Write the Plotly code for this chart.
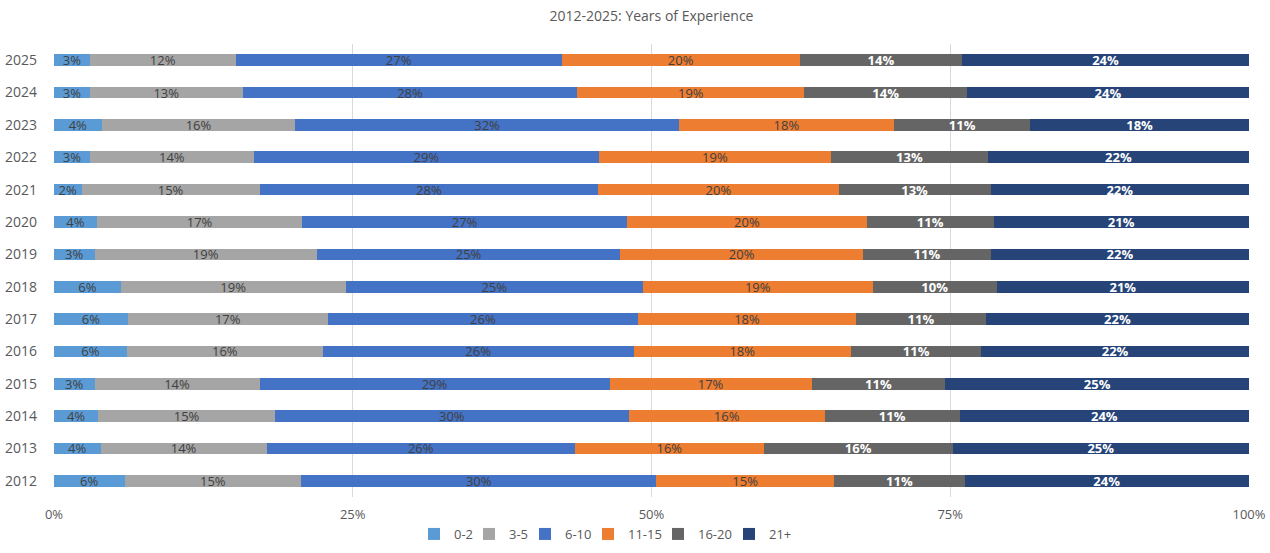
import plotly.graph_objects as go

years = ["2012", "2013", "2014", "2015", "2016", "2017", "2018",
         "2019", "2020", "2021", "2022", "2023", "2024", "2025"]

exp_0_2 = [5.9, 3.9, 3.7, 3.4, 6.1, 6.2, 5.6, 3.4, 3.6, 2.3, 3.0, 4.0, 3.0, 3.0]
exp_3_5 = [14.8, 13.9, 14.8, 13.8, 16.4, 16.7, 18.8, 18.6, 17.2, 14.9, 13.7, 16.2, 12.8, 12.2]
exp_6_10 = [29.7, 25.8, 29.6, 29.3, 26.0, 26.0, 24.9, 25.4, 27.2, 28.3, 28.8, 32.1, 28.0, 27.3]
exp_11_15 = [14.9, 15.8, 16.4, 16.9, 18.2, 18.2, 19.2, 20.3, 20.1, 20.1, 19.4, 18.0, 19.0, 19.9]
exp_16_20 = [10.9, 15.8, 11.3, 11.2, 10.9, 10.9, 10.4, 10.7, 10.6, 12.7, 13.1, 11.4, 13.6, 13.6]
exp_21_plus = [23.8, 24.8, 24.2, 25.4, 22.4, 22.0, 21.1, 21.6, 21.4, 21.6, 21.8, 18.3, 23.6, 24.0]

series_names = ["0-2", "3-5", "6-10", "11-15", "16-20", "21+"]
series_values = [exp_0_2, exp_3_5, exp_6_10, exp_11_15, exp_16_20, exp_21_plus]
colors = ["#5B9BD5", "#A5A5A5", "#4472C4", "#ED7D31", "#656565", "#264478"]
text_colors = ["#404040", "#404040", "#404040", "#404040", "#FFFFFF", "#FFFFFF"]
text_bold = [False, False, False, False, True, True]
legend_x_px = [434, 489, 545, 608, 678, 749]   # legend marker centres (px)

FONT = "Open Sans"
W, H = 1270, 553
ML, MR, MT, MB = 54, 21, 44, 56
PW, PH = W - ML - MR, H - MT - MB

fig = go.Figure()
legends = {}
for i, (name, vals, col, tcol, bold) in enumerate(zip(series_names, series_values, colors, text_colors, text_bold)):
    labels = [f"{int(v + 0.5)}%" for v in vals]
    if bold:
        labels = [f"<b>{t}</b>" for t in labels]
    lg = "legend" if i == 0 else f"legend{i + 1}"
    fig.add_trace(go.Bar(
        name=name,
        y=years,
        x=vals,
        orientation="h",
        marker=dict(color=col, line=dict(width=0)),
        text=labels,
        textposition="inside",
        insidetextanchor="middle",
        textfont=dict(color=tcol, size=13, family=FONT),
        hoverinfo="skip",
        legend=lg,
    ))
    legends[lg] = dict(
        orientation="h",
        x=(legend_x_px[i] - 20 - ML) / PW, xanchor="left",
        y=-(534 - (MT + PH)) / PH, yanchor="middle",
        font=dict(size=13, color="#595959", family=FONT),
        itemwidth=30,
        bgcolor="rgba(0,0,0,0)",
    )

fig.update_layout(
    barmode="stack",
    barnorm="percent",
    bargap=0.64,
    width=W,
    height=H,
    margin=dict(l=ML, r=MR, t=MT, b=MB, autoexpand=False),
    paper_bgcolor="white",
    plot_bgcolor="white",
    font=dict(family=FONT, color="#595959", size=13),
    title=dict(
        text="2012-2025: Years of Experience",
        x=0.5, xref="paper", xanchor="center",
        y=1 - 16 / H, yref="container", yanchor="middle",
        font=dict(size=14, color="#595959", family=FONT),
    ),
    uniformtext=dict(minsize=13, mode="show"),
    showlegend=True,
    xaxis=dict(
        range=[0, 100],
        tickvals=[0, 25, 50, 75, 100],
        ticktext=["0%", "25%", "50%", "75%", "100%"],
        showgrid=True,
        gridcolor="#D9D9D9",
        gridwidth=1,
        zeroline=False,
        showline=False,
        ticks="",
        ticklabelstandoff=8,
        tickfont=dict(size=13, color="#595959"),
        automargin=False,
        fixedrange=True,
    ),
    yaxis=dict(
        categoryorder="array",
        categoryarray=years,
        showgrid=False,
        zeroline=False,
        showline=False,
        ticks="",
        ticklabelstandoff=16,
        tickfont=dict(size=14, color="#595959"),
        automargin=False,
        fixedrange=True,
    ),
)
fig.update_layout(**legends)

fig.write_html(
    "out.html",
    config={"displayModeBar": False},
    post_script="document.body.style.margin='0';document.body.style.overflow='hidden';",
)
